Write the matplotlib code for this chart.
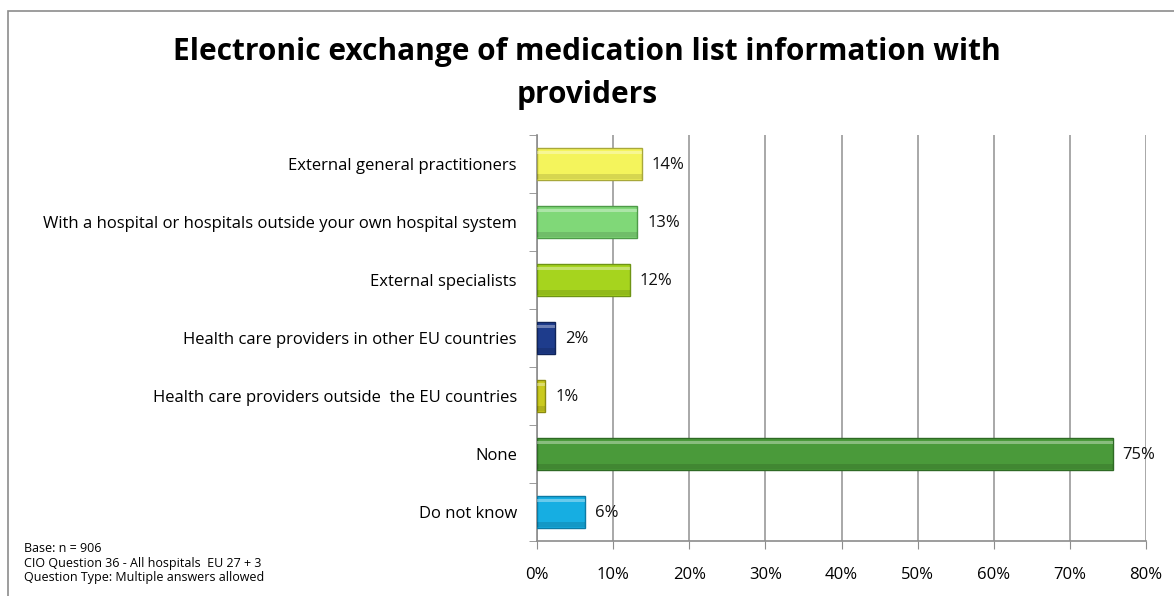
import matplotlib
matplotlib.use("Agg")
import matplotlib.pyplot as plt
from matplotlib.patches import Rectangle
import numpy as np

categories = [
    "External general practitioners",
    "With a hospital or hospitals outside your own hospital system",
    "External specialists",
    "Health care providers in other EU countries",
    "Health care providers outside  the EU countries",
    "None",
    "Do not know",
]
values = [13.8, 13.2, 12.2, 2.4, 1.1, 75.6, 6.3]
labels = ["14%", "13%", "12%", "2%", "1%", "75%", "6%"]
colors = ["#F4F45C", "#80D878", "#A6D41E", "#1E3C8C", "#CACA1E", "#4A9A3A", "#16AEE2"]
edges = ["#A8A83A", "#4E9A48", "#6E9414", "#10245A", "#8A8A10", "#2E6A24", "#0C7AA4"]
xticks = [0, 10, 20, 30, 40, 50, 60, 70, 80]

plt.rcParams['font.family'] = ['Open Sans', 'DejaVu Sans']

W, H = 1174, 596
fig = plt.figure(figsize=(W / 100, H / 100), dpi=100)

# outer frame
fig.patches.append(Rectangle((8 / W, -0.1), 1.2, 1 - 11 / H + 0.1, transform=fig.transFigure,
                             fill=False, edgecolor="#8c8c8c", linewidth=1.2))

ax = fig.add_axes([537 / W, 1 - 541 / H, (1146 - 537) / W, (541 - 135) / H])
y = np.arange(len(categories))
ax.barh(y, values, height=0.55, color=colors, edgecolor=edges, linewidth=1.0, zorder=3)
# bevel highlight
for yi, v in zip(y, values):
    ax.barh(yi - 0.2, v, height=0.06, left=0, color="white", alpha=0.35, linewidth=0, zorder=4)
    ax.barh(yi + 0.22, v, height=0.08, left=0, color="black", alpha=0.12, linewidth=0, zorder=4)

for yi, v, lab in zip(y, values, labels):
    ax.text(v + 1.3, yi + 0.02, lab, va="center", ha="left", fontsize=12, color="#111111", zorder=5)

ax.set_ylim(len(categories) - 0.5, -0.5)
ax.set_xlim(0, 80)
ax.set_xticks(xticks)
ax.set_xticklabels([f"{t}%" for t in xticks], fontsize=12)
ax.set_yticks(y)
ax.set_yticklabels(categories, fontsize=12)
ax.set_yticks(np.arange(len(categories) + 1) - 0.5, minor=True)
ax.tick_params(axis="y", which="major", length=0, pad=14.5)
ax.tick_params(axis="y", which="minor", length=6, color="#8c8c8c", direction="out")
ax.tick_params(axis="x", length=6, color="#8c8c8c", pad=13)
ax.grid(axis="x", color="#999999", linewidth=1.2, zorder=0)
for s in ["top", "right"]:
    ax.spines[s].set_visible(False)
for s in ["left", "bottom"]:
    ax.spines[s].set_color("#8c8c8c")
    ax.spines[s].set_linewidth(1.2)

fig.text(0.5, 1 - 52 / H, "Electronic exchange of medication list information with",
         ha="center", va="center", fontsize=21.5, fontweight="bold")
fig.text(0.5, 1 - 95 / H, "providers", ha="center", va="center", fontsize=21.5, fontweight="bold")

fig.text(24 / W, 1 - 548 / H, "Base: n = 906", fontsize=9, va="center")
fig.text(24 / W, 1 - 563 / H, "CIO Question 36 - All hospitals  EU 27 + 3", fontsize=9, va="center")
fig.text(24 / W, 1 - 578 / H, "Question Type: Multiple answers allowed", fontsize=9, va="center")

fig.savefig("out.png", dpi=100)
